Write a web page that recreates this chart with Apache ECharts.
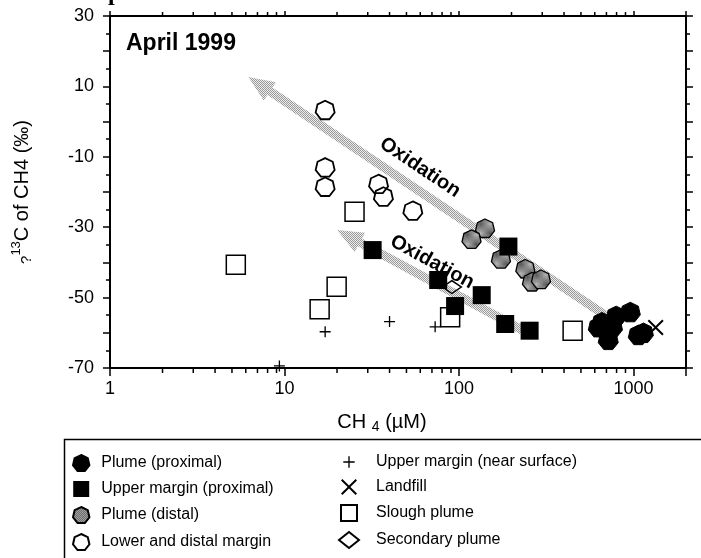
<!DOCTYPE html>
<html><head><meta charset="utf-8">
<script src="https://cdn.jsdelivr.net/npm/echarts@6/dist/echarts.min.js"></script>
<style>html,body{margin:0;padding:0;background:#fff}#c{width:701px;height:558px}</style>
</head><body><div id="c"></div>
<script>
// ---------- data ----------
const xMin = 1, xMax = 2000, yMin = -70, yMax = 30;
const xTickLabels = [1, 10, 100, 1000];
const yTickLabels = [-70, -50, -30, -10, 10, 30];
const minorTickValues = [2,3,4,5,6,7,8,9,20,30,40,50,60,70,80,90,200,300,400,500,600,700,800,900];

const plumeProximal = [[629,-58.4],[660,-57],[758,-58.4],[717,-62],[796,-55.2],[959,-54.1],[1066,-60.6],[1140,-60]];
const upperMarginProximal = [[32,-36.5],[192,-35.5],[76,-45],[135,-49.3],[95,-52.4],[184,-57.5],[254,-59.4]];
const plumeDistal = [[141,-30.3],[118,-33.4],[174,-39],[240,-41.8],[262,-45.5],[295,-44.8]];
const lowerDistalMargin = [[17.1,3.3],[17.1,-13],[17.1,-18.5],[34.6,-17.7],[36.9,-21.3],[54.4,-25.3]];
const upperMarginSurface = [[17.1,-59.7],[9.35,-69.4],[40,-56.8],[73,-58.3]];
const landfill = [[1340,-58.5]];
const sloughPlume = [[5.26,-40.7],[19.9,-46.9],[15.9,-53.3],[25.2,-25.6],[89,-55.6],[448,-59.4]];
const secondaryPlume = [[91,-47]];
const arrowTails = [[689,-55],[230,-59.2]];
const arrowHeads = [[6.2,12.7],[20,-30.8]];
const arrowLabels = ['Oxidation', 'Oxidation'];

const names = ['Plume (proximal)','Upper margin (proximal)','Plume (distal)','Lower and distal margin',
               'Upper margin (near surface)','Landfill','Slough plume','Secondary plume'];

// ---------- styles ----------
const FONT = 'Liberation Sans, Arial, sans-serif';
function pattern(a, b) {
  const c = document.createElement('canvas'); c.width = 2; c.height = 2;
  const g = c.getContext('2d');
  g.fillStyle = b; g.fillRect(0,0,2,2);
  g.fillStyle = a; g.fillRect(0,0,1,1); g.fillRect(1,1,1,1);
  return c;
}
const arrowFill = {image: pattern('#9a9a9a', '#ececec'), repeat: 'repeat'};
const distalFill = {image: pattern('#555555', '#b8b8b8'), repeat: 'repeat'};

const HEPT = 'path://M10,0L17.818,3.765L19.749,12.225L14.339,19.01L5.661,19.01L0.251,12.225L2.182,3.765Z';
const SQUARE = 'path://M0,0H10V10H0Z';
const DIAMOND = 'path://M10,0L20,8L10,16L0,8Z';
const PLUS = 'path://M4.4,0H5.6V4.4H10V5.6H5.6V10H4.4V5.6H0V4.4H4.4Z';
const PLUS_LEG = 'path://M4.4,0H5.6V4.4H10V5.6H5.6V10H4.4V5.6H0V4.4H4.4ZM-2,-2h0.01v0.01zM12,12h0.01v0.01z';
const CROSS = 'path://M0,1.4L1.4,0L8,6.6L14.6,0L16,1.4L9.4,8L16,14.6L14.6,16L8,9.4L1.4,16L0,14.6L6.6,8Z';

function sc(name, data, symbol, size, color, border, bw, z) {
  return {type:'scatter', name, data, symbol, symbolSize:size, symbolKeepAspect:true,
    itemStyle:{color, borderColor:border, borderWidth:bw, opacity:1}, z, silent:true,
    emphasis:{disabled:true}};
}

const chart = echarts.init(document.getElementById('c'));

const axisLineStyle = {color:'#000', width:2};
const tickStyle = {color:'#000', width:1.5};
const legendText = {fontSize:16, color:'#000', fontFamily:FONT, lineHeight:16};

const option = {
  animation: false,
  backgroundColor: '#fff',
  grid: {left:110, right:15, top:16, bottom:190, containLabel:false},
  xAxis: [{
    type:'log', logBase:10, min:xMin, max:xMax, position:'bottom',
    axisLine:{show:true, onZero:false, lineStyle:axisLineStyle},
    axisTick:{show:true, inside:false, length:8, lineStyle:tickStyle},
    splitLine:{show:false},
    axisLabel:{margin:12, fontSize:18, color:'#000', fontFamily:FONT,
      formatter: v => { const t = xTickLabels.find(t => Math.abs(t - v) / t < 1e-6); return t === undefined ? '' : String(t); }},
    name:'CH {sub|4} (µM)', nameLocation:'middle', nameGap:42,
    nameTextStyle:{fontSize:20, color:'#000', fontFamily:FONT, lineHeight:24, padding:[0,32,0,0],
      rich:{sub:{fontSize:14, lineHeight:14, verticalAlign:'bottom', color:'#000', fontFamily:FONT}}}
  },{
    type:'log', logBase:10, min:xMin, max:xMax, position:'top',
    axisLine:{show:true, onZero:false, lineStyle:axisLineStyle},
    axisTick:{show:true, inside:false, length:5, lineStyle:tickStyle},
    splitLine:{show:false}, axisLabel:{show:false}
  }],
  yAxis: [{
    type:'value', min:yMin, max:yMax, interval:10, position:'left',
    axisLine:{show:true, onZero:false, lineStyle:axisLineStyle},
    axisTick:{show:true, inside:false, length:7, lineStyle:tickStyle},
    minorTick:{show:true, splitNumber:2, length:4, lineStyle:tickStyle},
    splitLine:{show:false},
    axisLabel:{margin:16, fontSize:18, color:'#000', fontFamily:FONT,
      formatter: v => yTickLabels.includes(Math.round(v)) ? String(Math.round(v)) : ''},
    name:'{q|?}{sup|13}C of CH4 (‰)', nameLocation:'middle', nameRotate:90, nameGap:76,
    nameTextStyle:{fontSize:20, color:'#000', fontFamily:FONT, lineHeight:24,
      rich:{q:{fontSize:15, lineHeight:24, verticalAlign:'bottom', color:'#000', fontFamily:FONT},
            sup:{fontSize:13, lineHeight:13, verticalAlign:'top', color:'#000', fontFamily:FONT}}}
  },{
    type:'value', min:yMin, max:yMax, interval:10, position:'right',
    axisLine:{show:true, onZero:false, lineStyle:axisLineStyle},
    axisTick:{show:true, inside:false, length:7, lineStyle:tickStyle},
    minorTick:{show:true, splitNumber:2, length:4, lineStyle:tickStyle},
    splitLine:{show:false}, axisLabel:{show:false}
  }],
  legend: [{
    data: names.slice(0,4), orient:'vertical', left:72, top:454, height:140, padding:0,
    itemWidth:30, itemHeight:16, itemGap:9, selectedMode:false, textStyle:legendText
  },{
    data: [{name:names[4], icon:PLUS_LEG}, names[5], names[6], names[7]],
    orient:'vertical', left:338, top:454, height:140, padding:0,
    itemWidth:44, itemHeight:16, itemGap:9, selectedMode:false, textStyle:legendText
  }],
  graphic: [
    {type:'rect', left:62, top:437, shape:{width:700, height:200}, style:{fill:'none', stroke:'#000', lineWidth:1.5}, silent:true},
    {type:'text', left:126, top:32, style:{text:'April 1999', font:'bold 23px ' + FONT, fill:'#000'}, silent:true},
    {type:'text', left:108, top:-18, style:{text:'p', font:'bold 24px Liberation Serif, serif', fill:'#000'}, silent:true}
  ],
  series: [
    {
      type:'custom', name:'arrows', coordinateSystem:'cartesian2d', z:1, silent:true,
      data: arrowTails.map((t, i) => [t[0], t[1], arrowHeads[i][0], arrowHeads[i][1]]),
      encode:{x:[0,2], y:[1,3]},
      renderItem: (params, api) => {
        const i = params.dataIndex;
        const t = api.coord([api.value(0), api.value(1)]);
        const h = api.coord([api.value(2), api.value(3)]);
        const dx = h[0]-t[0], dy = h[1]-t[1], L = Math.hypot(dx, dy);
        const ux = dx/L, uy = dy/L, nx = -uy, ny = ux;
        const w = 4.5, hw = 11, hl = 26;
        const neck = [h[0]-ux*hl, h[1]-uy*hl];
        const pts = [
          [t[0]+nx*w, t[1]+ny*w], [neck[0]+nx*w, neck[1]+ny*w], [neck[0]+nx*hw, neck[1]+ny*hw],
          h, [neck[0]-nx*hw, neck[1]-ny*hw], [neck[0]-nx*w, neck[1]-ny*w], [t[0]-nx*w, t[1]-ny*w]
        ];
        const frac = i === 0 ? 0.45 : 0.47, off = i === 0 ? 20 : 17;
        const bx = -ux, by = -uy; // head -> tail
        const px = by, py = -bx;
        const cx = h[0] + (t[0]-h[0])*frac + px*off;
        const cy = h[1] + (t[1]-h[1])*frac + py*off;
        const rot = -Math.atan2(by, bx);
        return {type:'group', children:[
          {type:'polygon', shape:{points:pts}, style:{fill:arrowFill, stroke:null}},
          {type:'text', x:cx, y:cy, rotation:rot,
           style:{text:arrowLabels[i], font:'bold 20px ' + FONT, fill:'#000', align:'center', verticalAlign:'middle'}}
        ]};
      }
    },
    {
      type:'custom', name:'minorTicks', coordinateSystem:'cartesian2d', z:3, silent:true, clip:false,
      data: minorTickValues.map(v => [v, yMin]),
      renderItem: (params, api) => {
        const v = api.value(0);
        const b = api.coord([v, yMin]);
        const tp = api.coord([v, yMax]);
        return {type:'group', children:[
          {type:'line', shape:{x1:b[0], y1:b[1], x2:b[0], y2:b[1]+5}, style:{stroke:'#000', lineWidth:1.5}},
          {type:'line', shape:{x1:tp[0], y1:tp[1], x2:tp[0], y2:tp[1]-4}, style:{stroke:'#000', lineWidth:1.5}}
        ]};
      }
    },
    sc(names[6], sloughPlume, SQUARE, 19, 'rgba(0,0,0,0)', '#000', 1.5, 4),
    sc(names[7], secondaryPlume, DIAMOND, [19,16], 'rgba(0,0,0,0)', '#000', 1.5, 4),
    sc(names[3], lowerDistalMargin, HEPT, 19, 'rgba(0,0,0,0)', '#000', 1.8, 4),
    sc(names[4], upperMarginSurface, PLUS, 11, '#000', '#000', 0, 5),
    sc(names[5], landfill, CROSS, 16, '#000', '#000', 0, 5),
    sc(names[2], plumeDistal, HEPT, 19, distalFill, '#000', 1.3, 6),
    sc(names[1], upperMarginProximal, SQUARE, 18, '#000', '#000', 0, 7),
    sc(names[0], plumeProximal, HEPT, 20, '#000', '#000', 1, 8)
  ]
};
chart.setOption(option);
</script>
</body></html>
